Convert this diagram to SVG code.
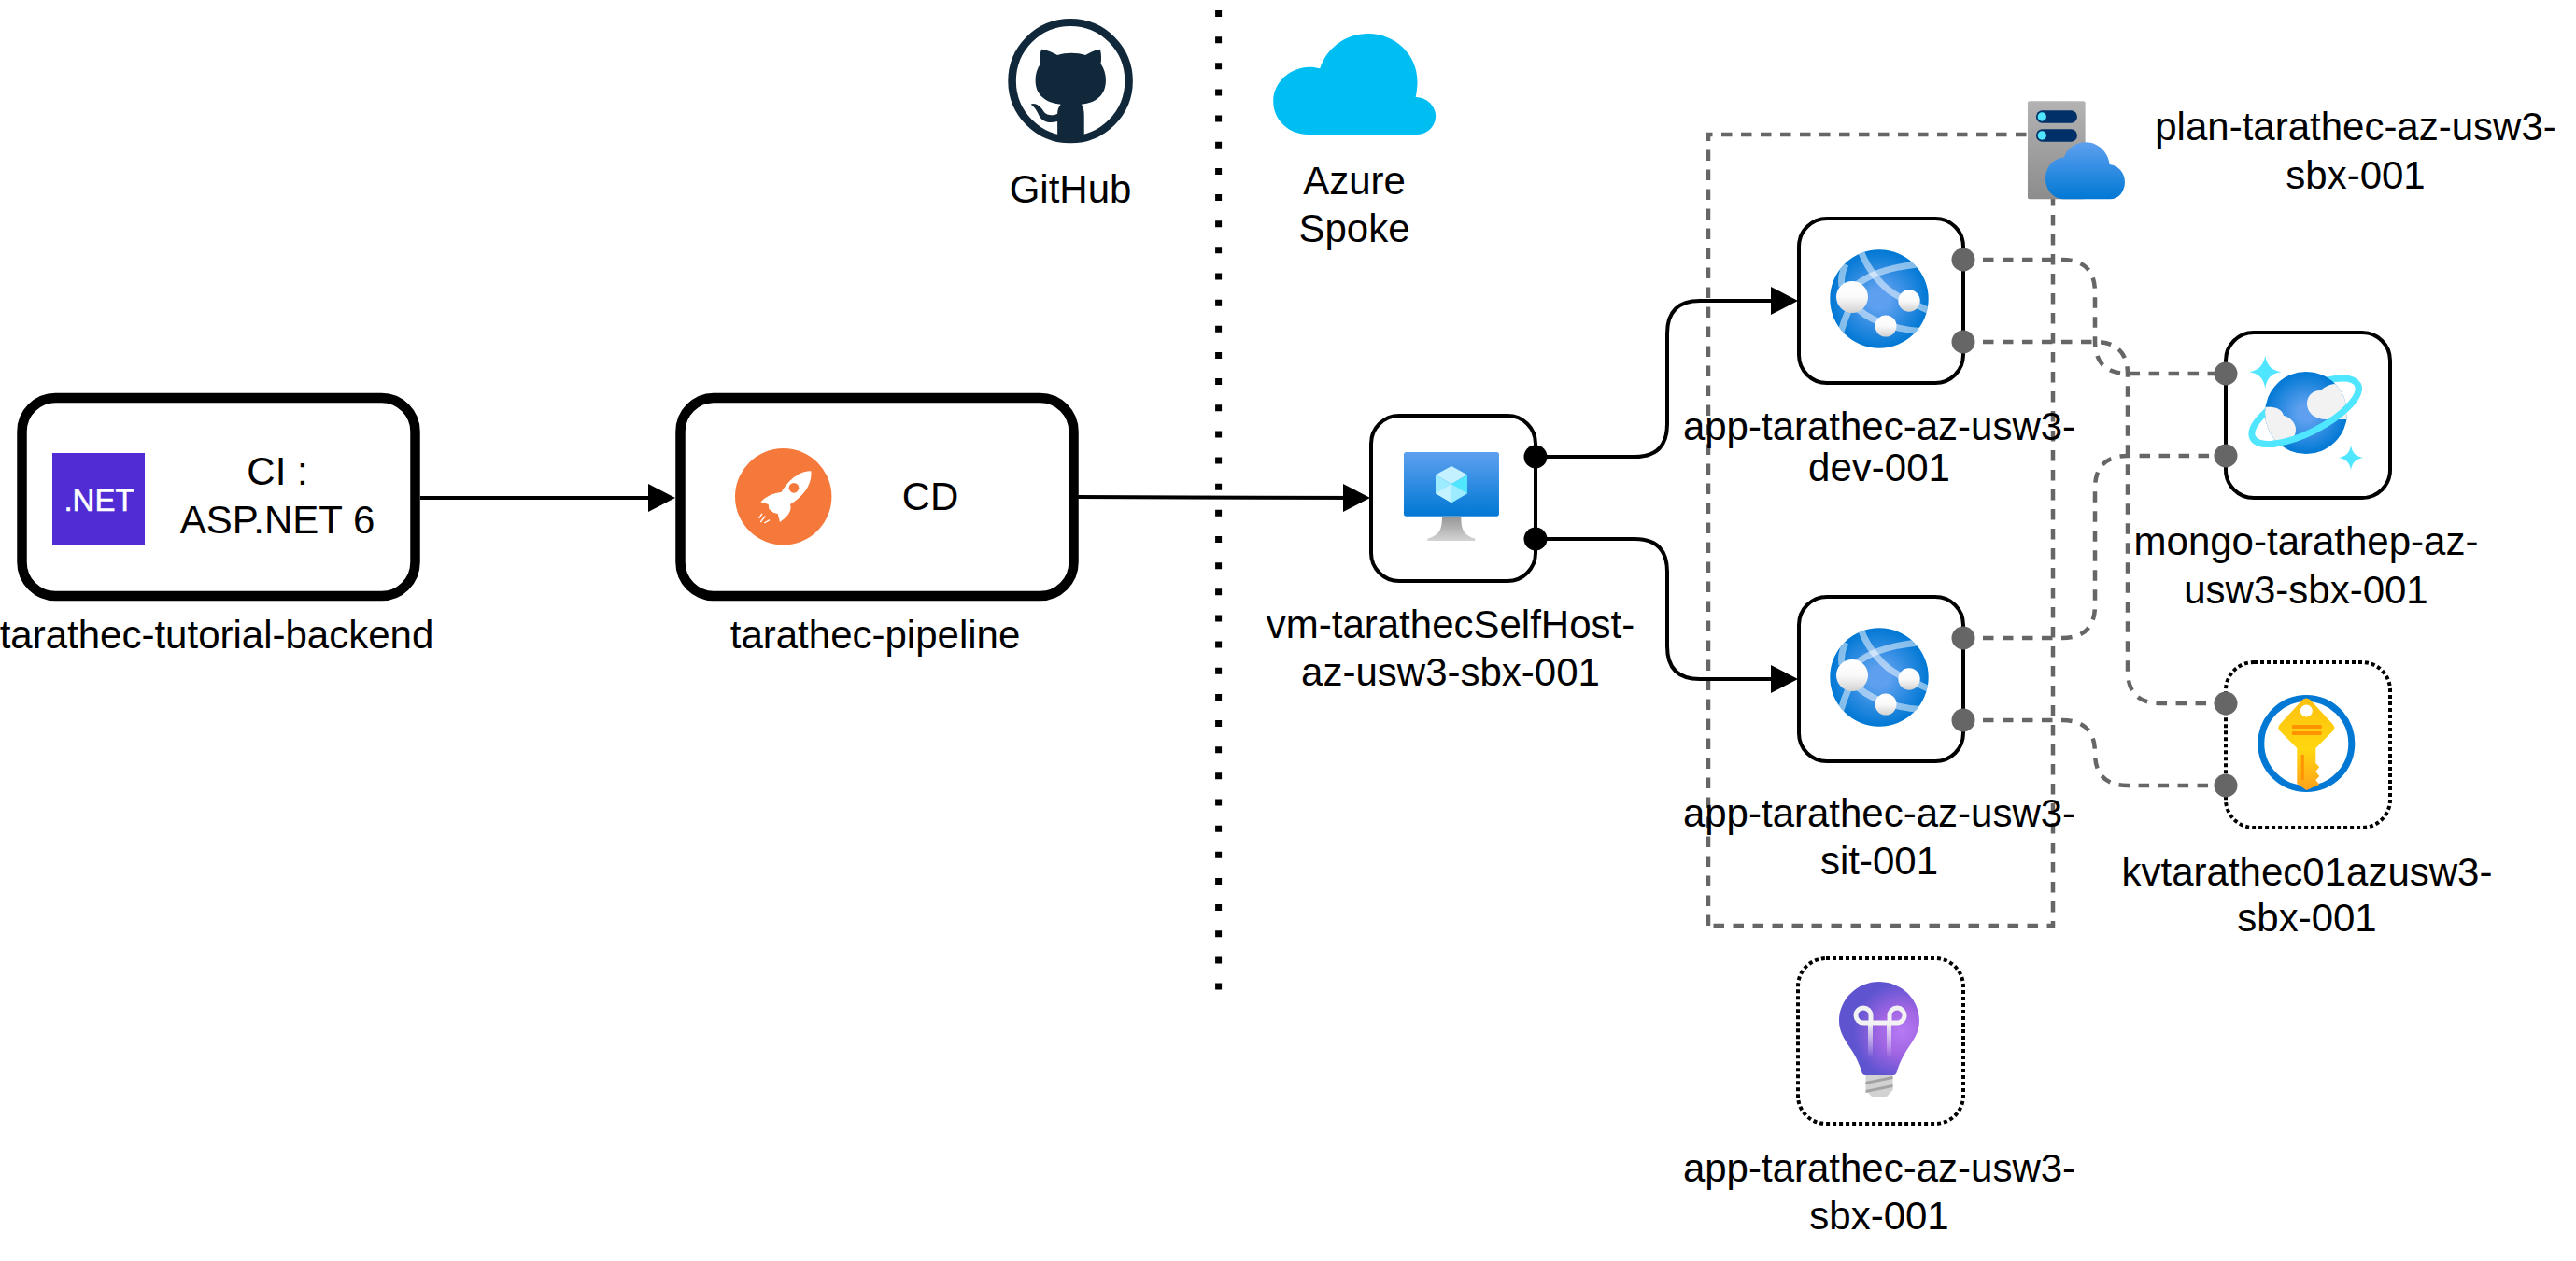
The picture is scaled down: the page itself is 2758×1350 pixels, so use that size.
<svg xmlns="http://www.w3.org/2000/svg" xmlns:xlink="http://www.w3.org/1999/xlink" width="2758" height="1350" viewBox="0 0 2758 1350">
<style>
text{font-family:"Liberation Sans",Arial,sans-serif;font-size:42px;fill:#000;text-anchor:middle}
.bold{fill:#fff;stroke:#000;stroke-width:10.5}
.box{fill:#fff;stroke:#000;stroke-width:4}
.dot{fill:#fff;stroke:#000;stroke-width:4;stroke-dasharray:4 3}
.solid{fill:none;stroke:#000;stroke-width:4}
.dash{fill:none;stroke:#666;stroke-width:4.5;stroke-dasharray:11.5 9.5}
.pg{fill:#666}
.pk{fill:#000}
.band{fill:none;stroke:#fff;stroke-width:7;stroke-opacity:.5}
</style>
<defs>
<marker id="arrow" markerUnits="userSpaceOnUse" markerWidth="29" markerHeight="30" refX="25" refY="15" orient="auto"><path d="M0 0L29 15L0 30Z" fill="#000"/></marker>
<linearGradient id="blue" x1="0" y1="0" x2="0" y2="1"><stop offset="0" stop-color="#5EA0EF"/><stop offset="1" stop-color="#0078D4"/></linearGradient>
<linearGradient id="gray" x1="0" y1="0" x2="0" y2="1"><stop offset="0" stop-color="#B3B3B3"/><stop offset="1" stop-color="#8C8C8C"/></linearGradient>
<linearGradient id="stand" x1="0" y1="0" x2="0" y2="1"><stop offset="0" stop-color="#949494"/><stop offset="1" stop-color="#D4D4D4"/></linearGradient>
<linearGradient id="sphere" x1="0" y1="0" x2="0" y2="1"><stop offset="0" stop-color="#fff"/><stop offset=".5" stop-color="#FAFAFA"/><stop offset="1" stop-color="#D2D2D2"/></linearGradient>
<linearGradient id="gold" x1="0" y1="0" x2="0" y2="1"><stop offset="0" stop-color="#FEC00F"/><stop offset=".55" stop-color="#FFD70F"/><stop offset="1" stop-color="#FEA11B"/></linearGradient>
<radialGradient id="globe" cx=".5" cy=".5" r=".5"><stop offset=".2" stop-color="#5EA0EF"/><stop offset="1" stop-color="#0078D4"/></radialGradient>
<radialGradient id="bulbg" gradientUnits="userSpaceOnUse" cx="24" cy="10" r="52"><stop offset="0" stop-color="#B77AF4"/><stop offset=".45" stop-color="#A366E4"/><stop offset="1" stop-color="#5E54D0"/></radialGradient>
<linearGradient id="fade" gradientUnits="userSpaceOnUse" x1="0" y1="0" x2="0" y2="38"><stop offset="0" stop-color="#F2F2F2"/><stop offset="1" stop-color="#F2F2F2" stop-opacity="0"/></linearGradient>
<clipPath id="gclip"><circle r="52.7"/></clipPath>
<clipPath id="pclip"><circle r="44"/></clipPath>
<g id="webapp">
<circle r="52.7" fill="url(#globe)"/>
<g clip-path="url(#gclip)">
<path class="band" d="M-20-52C-12-30 5-10 22-2L56 14"/>
<path class="band" d="M-30-10C-15-25 10-34 42-37"/>
<path class="band" d="M-28 6C-15 20 10 33 50 35"/>
<path class="band" d="M-36-37Q-42-25-40-13"/>
<path class="band" d="M-32 10Q-38 24-42 38"/>
</g>
<circle cx="-29" cy="-2" r="17" fill="url(#sphere)"/>
<circle cx="32" cy="2" r="11.7" fill="url(#sphere)"/>
<circle cx="7" cy="29" r="11.5" fill="url(#sphere)"/>
</g>
</defs>

<g id="plan-frame"><path class="dash" d="M1829 991V144H2198V991Z"/></g>

<g id="divider"><path d="M1304.6 11V1064" fill="none" stroke="#000" stroke-width="7" stroke-dasharray="7 21.15"/></g>

<g id="connectors">
<path class="solid" d="M450 533H719" marker-end="url(#arrow)"/>
<path class="solid" d="M1154 532C1300 532 1350 533 1463 533" marker-end="url(#arrow)"/>
<path class="solid" d="M1644 489H1750Q1785 489 1785 454V357Q1785 322 1820 322H1921" marker-end="url(#arrow)"/>
<path class="solid" d="M1644 577H1750Q1785 577 1785 612V692Q1785 727 1820 727H1921" marker-end="url(#arrow)"/>
<path class="dash" d="M2102 278H2208Q2243 278 2243 313V365Q2243 400 2278 400H2383"/>
<path class="dash" d="M2102 366H2243Q2278 366 2278 401V718Q2278 753 2313 753H2383"/>
<path class="dash" d="M2102 683H2208Q2243 683 2243 648V523Q2243 488 2278 488H2383"/>
<path class="dash" d="M2102 771H2208Q2243 771 2243 806Q2243 841 2278 841H2383"/>
</g>

<g id="node-ci">
<rect class="bold" x="23.5" y="426" width="421" height="212" rx="36" ry="36"/>
<rect x="56" y="485" width="99" height="99" fill="#512BD4"/>
<text x="106" y="547" style="font-size:33px;fill:#fff;stroke:#fff;stroke-width:.5">.NET</text>
<text x="297" y="519">CI :</text>
<text x="297" y="571">ASP.NET 6</text>
<text x="232" y="694">tarathec-tutorial-backend</text>
</g>

<g id="node-cd">
<rect class="bold" x="728.500" y="426" width="421" height="212" rx="36" ry="36"/>
<circle cx="838.700" cy="531.700" r="51.700" fill="#F5793A"/>
<g transform="translate(780 475) scale(.3333)">
<path d="M265 88C235 88 200 105 170 155C140 160 120 170 103 187L128 195L130 210L145 222L158 225L165 252C190 235 205 215 198 195C240 170 270 130 265 88Z" fill="#fff"/>
<circle cx="210" cy="142" r="16" fill="#F5793A"/>
<path d="M108 225L98 240M118 232L103 252M132 245L115 255" stroke="#fff" stroke-width="4" fill="none"/>
</g>
<text x="996" y="546">CD</text>
<text x="937" y="694">tarathec-pipeline</text>
</g>

<g id="node-github">
<g transform="translate(1040 0) scale(.35714 .3333)" fill="#10283A">
<ellipse cx="297" cy="260" rx="175" ry="188" fill="none" stroke="#10283A" stroke-width="24"/>
<path d="M207 205C205 190 205 172 210 158C225 160 245 168 258 177C285 168 315 168 342 177C355 168 372 160 386 158C390 172 390 190 388 205C398 220 403 238 403 258C403 305 375 330 330 335C336 345 338 355 338 370V445H258V390C235 397 215 392 205 375C198 360 192 345 178 335C195 328 210 345 218 360C228 372 245 372 258 365C258 352 262 342 268 335C222 330 192 305 192 258C192 238 197 220 207 205Z"/>
</g>
<text x="1146" y="217">GitHub</text>
</g>

<g id="node-azure">
<path transform="translate(1040 0) scale(.35714 .3333)" fill="#00BEF2" d="M1010 432C950 432 905 385 905 325C905 265 955 215 1015 215C1025 215 1035 217 1045 220C1065 155 1120 108 1190 108C1270 108 1337 175 1337 262C1337 280 1335 297 1332 312C1365 313 1392 340 1392 373C1392 405 1367 432 1337 432Z"/>
<text x="1450" y="208">Azure</text>
<text x="1450" y="259">Spoke</text>
</g>

<g id="node-vm">
<rect class="box" x="1468" y="445" width="176" height="177" rx="30" ry="30"/>
<g transform="translate(1400 420) scale(.3333)">
<rect x="309" y="192" width="306" height="206" rx="8" fill="url(#blue)"/>
<path d="M432 398H493C493 440 500 458 538 470V477H385V470C425 458 432 440 432 398Z" fill="url(#stand)"/>
<path d="M462 237L513 265L462 295L411 265Z" fill="#C3F1FF"/>
<path d="M411 265L462 295V355L411 325Z" fill="#9CEBFF"/>
<path d="M513 265L462 295V355L513 325Z" fill="#50E6FF"/>
<path d="M462 295V355L411 325Z" fill="#C3F1FF"/>
<path d="M462 295V355L513 325Z" fill="#9CEBFF"/>
</g>
<circle class="pk" cx="1644" cy="489" r="12.500"/>
<circle class="pk" cx="1644" cy="577" r="12.500"/>
<text x="1553" y="683">vm-tarathecSelfHost-</text>
<text x="1553" y="734">az-usw3-sbx-001</text>
</g>

<g id="node-plan">
<g transform="translate(1800 80) scale(.3333)">
<rect x="1113" y="85" width="185" height="315" rx="6" fill="url(#gray)"/>
<rect x="1140" y="115" width="132" height="40" rx="20" fill="#003067"/>
<circle cx="1159" cy="135" r="14" fill="#50E6FF"/>
<rect x="1140" y="175" width="132" height="40" rx="20" fill="#003067"/>
<circle cx="1159" cy="195" r="14" fill="#50E6FF"/>
<path d="M1225 400C1190 395 1170 365 1170 335C1170 295 1195 270 1230 265C1240 235 1270 217 1300 217C1340 217 1372 250 1376 288C1405 292 1425 315 1425 345C1425 375 1405 400 1378 400Z" fill="url(#blue)"/>
</g>
<text x="2522" y="150">plan-tarathec-az-usw3-</text>
<text x="2522" y="202">sbx-001</text>
</g>

<g id="node-app-dev">
<rect class="box" x="1926" y="234" width="176" height="176" rx="30" ry="30"/>
<use xlink:href="#webapp" href="#webapp" transform="translate(2012 320)"/>
<circle class="pg" cx="2102" cy="278" r="12.500"/>
<circle class="pg" cx="2102" cy="366" r="12.500"/>
<text x="2012" y="471">app-tarathec-az-usw3-</text>
<text x="2012" y="515">dev-001</text>
</g>

<g id="node-app-sit">
<rect class="box" x="1926" y="639" width="176" height="176" rx="30" ry="30"/>
<use xlink:href="#webapp" href="#webapp" transform="translate(2012 725)"/>
<circle class="pg" cx="2102" cy="683" r="12.500"/>
<circle class="pg" cx="2102" cy="771" r="12.500"/>
<text x="2012" y="885">app-tarathec-az-usw3-</text>
<text x="2012" y="936">sit-001</text>
</g>

<g id="node-mongo">
<rect class="box" x="2383" y="356" width="176" height="177" rx="30" ry="30"/>
<g transform="translate(2469 442)">
<ellipse cy="-2" rx="63" ry="23" transform="rotate(-27)" fill="none" stroke="#50E6FF" stroke-width="7"/>
<circle r="44" fill="url(#globe)"/>
<g clip-path="url(#pclip)" fill="#F2F2F2">
<path d="M22 7C8 7 1-1 1-10C1-18 7-24 15-24C18-25 22-31 32-31C42-31 50-22 50-10V7Z"/>
<path d="M-46-6C-36-7-26-6-24 3C-18 4-11 10-11 18C-11 26-16 30-24 30H-50Z"/>
</g>
<path d="M-63-2A63 23 0 0 0 63-2" transform="rotate(-27)" fill="none" stroke="#50E6FF" stroke-width="7"/>
<path d="M-43.700-61.500Q-42-46-26.500-43.700Q-42-42-43.700-26Q-46-42-61-43.700Q-46-46-43.700-61.500Z" fill="#50E6FF"/>
<path d="M48 34.500Q49.500 46.500 61.500 48Q49.500 49.500 48 61.500Q46.500 49.500 34.500 48Q46.500 46.500 48 34.500Z" fill="#50E6FF"/>
</g>
<circle class="pg" cx="2383" cy="400" r="12.500"/>
<circle class="pg" cx="2383" cy="488" r="12.500"/>
<text x="2469" y="594">mongo-tarathep-az-</text>
<text x="2469" y="646">usw3-sbx-001</text>
</g>

<g id="node-keyvault">
<rect class="dot" x="2383" y="709" width="176" height="177" rx="30" ry="30"/>
<g transform="translate(2469.300 796)">
<circle r="48.500" fill="#fff" stroke="#0078D4" stroke-width="7"/>
<path d="M-4-47Q0-50 4-47L28-21Q32-17 28-13L10 5V21L14 25L10 30L14 35L10 39L14 44L0 50L-10 43V5L-28-13Q-32-17-28-21Z" fill="url(#gold)"/>
<circle cy="-35" r="6.500" fill="#fff"/>
<rect x="-15.500" y="-20" width="32" height="4" rx="1" fill="#FF9300"/>
<rect x="-15.500" y="-13" width="32" height="4" rx="1" fill="#FF9300"/>
<rect x="-5.500" y="12" width="3" height="27" fill="#FF9300"/>
</g>
<circle class="pg" cx="2383" cy="753" r="12.500"/>
<circle class="pg" cx="2383" cy="841" r="12.500"/>
<text x="2470" y="948">kvtarathec01azusw3-</text>
<text x="2470" y="997">sbx-001</text>
</g>

<g id="node-insights">
<rect class="dot" x="1925" y="1026" width="177" height="177" rx="30" ry="30"/>
<g transform="translate(2012 1094)">
<path d="M-14.500 57H14.500V73L8 80H-8L-14.500 73Z" fill="#D2D2D2"/>
<path d="M-14.500 64L14.500 58V61L-14.500 67ZM-14.500 73L14.500 67V70L-14.500 76Z" fill="#A3A3A3"/>
<path d="M0-43C24-43 43-24 43-1C43 12 35 22 29 31C24 39 21 46 19 53Q18 57 15 57H-15Q-18 57-19 53C-21 46-24 39-29 31C-35 22-43 12-43-1C-43-24-24-43 0-43Z" fill="url(#bulbg)"/>
<g fill="none" stroke="#F2F2F2" stroke-width="5">
<path d="M-10 1H-17A8 8 0 1 1-9-7V1H11V-7A8 8 0 1 1 18 1H-10"/>
</g>
<rect x="-12" y="1" width="5" height="38" fill="url(#fade)"/>
<rect x="8" y="1" width="5" height="38" fill="url(#fade)"/>
</g>
<text x="2012" y="1265">app-tarathec-az-usw3-</text>
<text x="2012" y="1316">sbx-001</text>
</g>
</svg>
